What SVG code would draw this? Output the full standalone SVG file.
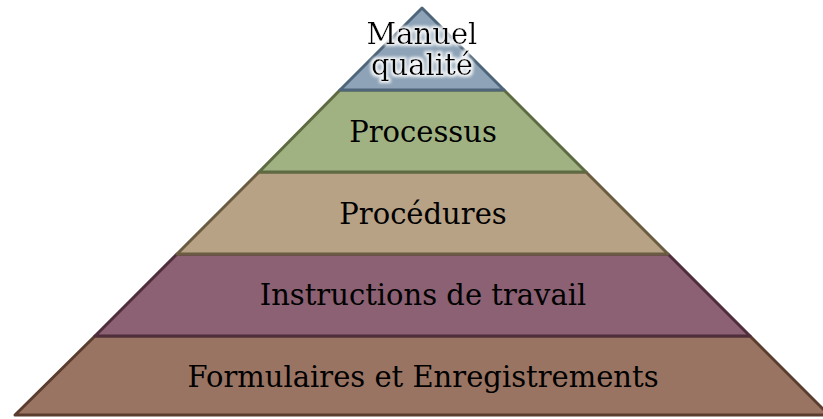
<svg xmlns="http://www.w3.org/2000/svg" width="823" height="419" viewBox="0 0 823 419">
<defs>
<filter id="glow" x="-20%" y="-20%" width="140%" height="140%">
<feMorphology in="SourceAlpha" operator="dilate" radius="1.5" result="d"/>
<feGaussianBlur in="d" stdDeviation="1.5" result="b"/>
<feFlood flood-color="#ffffff" flood-opacity="0.9"/>
<feComposite in2="b" operator="in" result="g"/>
<feMerge><feMergeNode in="g"/><feMergeNode in="SourceGraphic"/></feMerge>
</filter>
</defs>
<style>
.lvl{stroke-width:3;stroke-linejoin:round}
.t{font-family:"DejaVu Serif","Liberation Serif",serif;font-size:29px;fill:#000;text-anchor:middle}
</style>
<rect width="823" height="419" fill="#ffffff"/>
<g id="level5"><polygon class="lvl" points="95,336 750,336 829,415 15,415" fill="#9A7462" stroke="#5B3D2F"/><text class="t" x="423" y="387">Formulaires et Enregistrements</text></g>
<g id="level4"><polygon class="lvl" points="177,254 668,254 750,336 95,336" fill="#8B6173" stroke="#4F2D3B"/><text class="t" x="423" y="305">Instructions de travail</text></g>
<g id="level3"><polygon class="lvl" points="259,172 586,172 668,254 177,254" fill="#B7A286" stroke="#6B5B41"/><text class="t" x="423" y="224">Procédures</text></g>
<g id="level2"><polygon class="lvl" points="340,90 504,90 586,172 259,172" fill="#A0B282" stroke="#5E6B42"/><text class="t" x="423" y="142">Processus</text></g>
<g id="level1"><polygon class="lvl" points="422,8 504,90 340,90" fill="#8EA3B7" stroke="#4F6579"/><text class="t" x="422" y="44" filter="url(#glow)">Manuel</text><text class="t" x="422" y="75" filter="url(#glow)">qualité</text></g>
</svg>
